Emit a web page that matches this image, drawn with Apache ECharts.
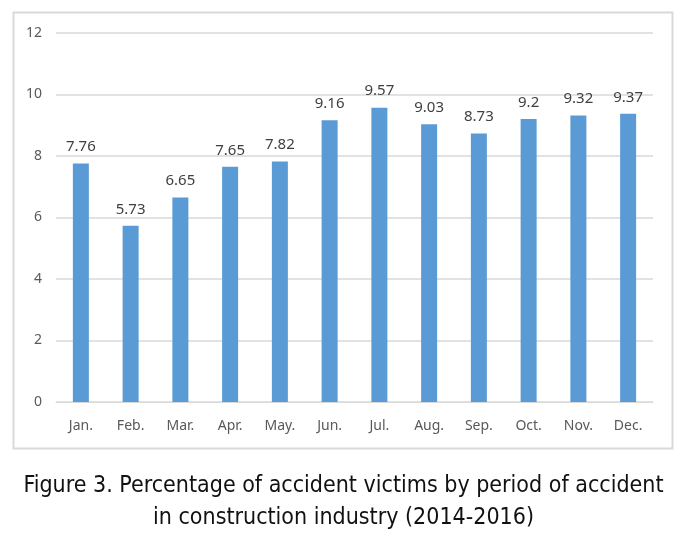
<!DOCTYPE html>
<html><head><meta charset="utf-8">
<script src="https://cdn.jsdelivr.net/npm/echarts@6/dist/echarts.min.js"></script>
<style>html,body{margin:0;padding:0;background:#fff;}#c{width:687px;height:545px;}</style>
</head><body><div id="c"></div>
<script>
var categories = ['Jan.','Feb.','Mar.','Apr.','May.','Jun.','Jul.','Aug.','Sep.','Oct.','Nov.','Dec.'];
var values = [7.76,5.73,6.65,7.65,7.82,9.16,9.57,9.03,8.73,9.2,9.32,9.37];
var captionLines = ['Figure 3. Percentage of accident victims by period of accident','in construction industry (2014-2016)'];

var chart = echarts.init(document.getElementById('c'), null, {renderer:'canvas'});
chart.setOption({
  backgroundColor:'#fff',
  animation:false,
  graphic:[
    {type:'rect', shape:{x:13.5,y:12.5,width:659,height:436}, style:{fill:'none',stroke:'#d9d9d9',lineWidth:2}, silent:true},
    {type:'text', left:'center', top:475, style:{text:captionLines[0], font:'23px "Liberation Sans Narrow","DejaVu Sans Condensed",sans-serif', fill:'#111'}},
    {type:'text', left:'center', top:507, style:{text:captionLines[1], font:'23px "Liberation Sans Narrow","DejaVu Sans Condensed",sans-serif', fill:'#111'}}
  ],
  grid:{left:56, right:34, top:33, bottom:143, containLabel:false},
  xAxis:{type:'category', data:categories,
    axisLine:{show:true, lineStyle:{color:'#d9d9d9'}}, axisTick:{show:false},
    axisLabel:{color:'#595959', fontSize:14, margin:17, fontFamily:'"Noto Sans",sans-serif'}},
  yAxis:{type:'value', min:0, max:12, interval:2,
    axisLine:{show:false}, axisTick:{show:false},
    splitLine:{lineStyle:{color:'#d9d9d9', width:1.5}},
    axisLabel:{color:'#595959', fontSize:14, margin:14, fontFamily:'"Noto Sans",sans-serif'}},
  series:[{type:'bar', data:values, barWidth:16,
    itemStyle:{color:'#5b9bd5'},
    label:{show:true, position:'top', distance:9, color:'#404040', fontSize:15, fontFamily:'"Noto Sans",sans-serif'}}]
});
</script></body></html>
